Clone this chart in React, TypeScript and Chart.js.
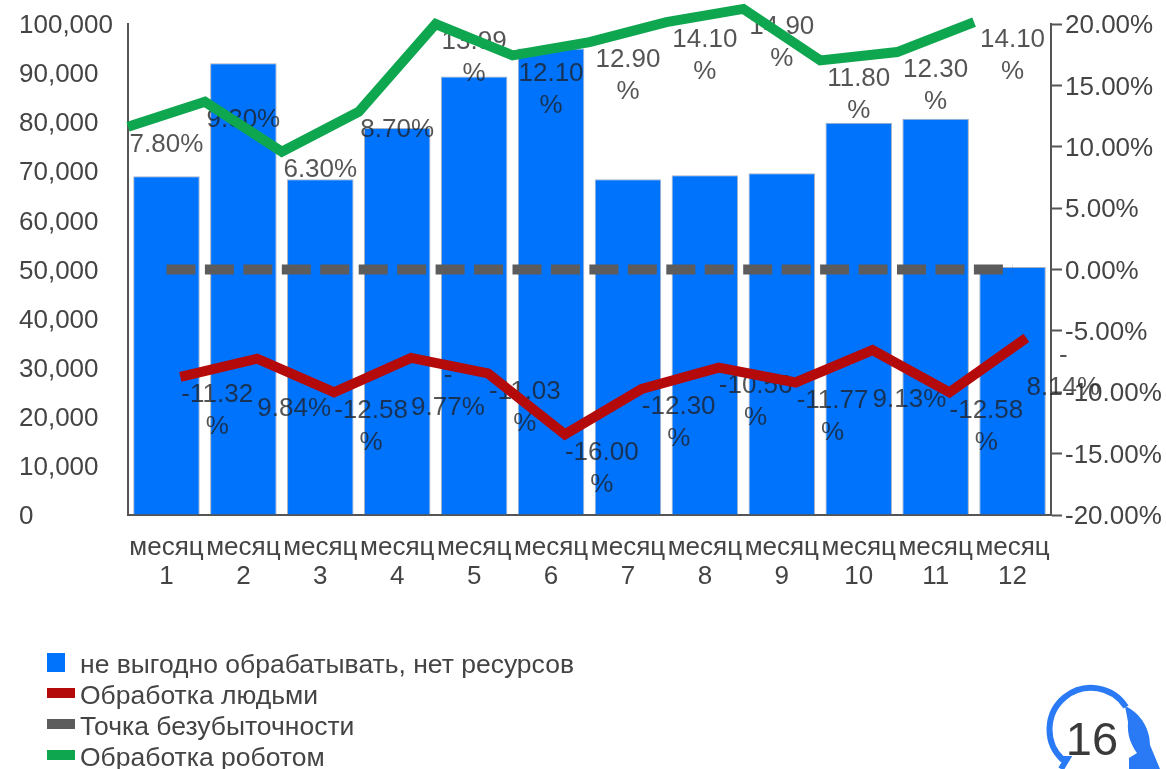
import React, { useEffect, useRef } from "react";
import { Chart, registerables } from "chart.js";

Chart.register(...registerables);

const months = ["1", "2", "3", "4", "5", "6", "7", "8", "9", "10", "11", "12"];
const monthWord = "месяц";

const unprofitable = [69000, 92000, 68400, 78800, 89300, 95000, 68400, 69200, 69600, 79900, 80700, 50500];
const humanMargin = [-11.32, -9.84, -12.58, -9.77, -11.03, -16.0, -12.3, -10.56, -11.77, -9.13, -12.58, -8.14];
const breakEven = [0, 0, 0, 0, 0, 0, 0, 0, 0, 0, 0, 0];
const robotMargin = [7.8, 9.3, 6.3, 8.7, 13.99, 12.1, 12.9, 14.1, 14.9, 11.8, 12.3, 14.1];

const seriesNames = ["не выгодно обрабатывать, нет ресурсов", "Обработка людьми", "Точка безубыточности", "Обработка роботом"];
const seriesColors = ["#0073fd", "#b40a0a", "#5c5c5c", "#0fa650"];

// Each line series has its own horizontal shift within a month slot.
const humanShift = 0.18;
const robotShift = -0.5;
const humanLabelShift = 0.66;

const FONT = '"Liberation Sans", Arial, sans-serif';
const TEXT = "#444444";
const AXIS = "#555555";
const LABEL_INK = "rgba(30,30,30,0.76)";
const LINE_WIDTH = 10;

const wrapLabel = (ctx: CanvasRenderingContext2D, text: string, maxWidth: number): string[] => {
  if (ctx.measureText(text).width <= maxWidth) return [text];
  const rest = text.slice(1);
  if (text.startsWith("-") && ctx.measureText(rest).width <= maxWidth) return ["-", rest];
  return [text.slice(0, -1), "%"];
};

// Value labels sit over the bars but underneath the line strokes.
const valueLabels = {
  id: "valueLabels",
  afterDatasetDraw(chart: any, args: any) {
    if (args.index !== 0) return;
    const { ctx, scales } = chart;
    const slot = scales.xLine.getPixelForValue(2) - scales.xLine.getPixelForValue(1);
    ctx.save();
    ctx.font = `26px ${FONT}`;
    ctx.fillStyle = LABEL_INK;
    ctx.textAlign = "center";
    ctx.textBaseline = "middle";
    const put = (value: number, labelX: number, axis: any) => {
      const lines = wrapLabel(ctx, `${value.toFixed(2)}%`, slot);
      const top = axis.getPixelForValue(value) + 18;
      lines.forEach((line, i) => ctx.fillText(line, scales.xLine.getPixelForValue(labelX), top + i * 32));
    };
    robotMargin.forEach((v, i) => put(v, i + 1, scales.yRobot));
    humanMargin.forEach((v, i) => put(v, i + 1 + humanLabelShift, scales.yHuman));
    ctx.restore();
  },
};

// Stacked legend in the lower left: a square for the bars, short strips for the lines.
const stackedLegend = {
  id: "stackedLegend",
  afterDraw(chart: any) {
    const { ctx } = chart;
    ctx.save();
    ctx.font = `26.5px ${FONT}`;
    ctx.textBaseline = "middle";
    ctx.textAlign = "left";
    const rows = [664, 695, 726, 757];
    chart.data.datasets.forEach((ds: any, i: number) => {
      ctx.fillStyle = seriesColors[i];
      if (ds.type === "bar") ctx.fillRect(47, rows[i] - 11, 18, 19);
      else ctx.fillRect(47, rows[i] - 7, 28, 10);
      ctx.fillStyle = TEXT;
      ctx.fillText(ds.label, 80, rows[i] + 1.5);
    });
    ctx.restore();
  },
};

export default function App() {
  const ref = useRef<HTMLCanvasElement>(null);

  useEffect(() => {
    const chart = new Chart(ref.current as HTMLCanvasElement, {
      type: "bar",
      plugins: [valueLabels, stackedLegend],
      data: {
        labels: months.map((m) => [monthWord, m]),
        datasets: [
          {
            type: "bar",
            label: seriesNames[0],
            data: unprofitable,
            backgroundColor: seriesColors[0],
            borderColor: "rgba(110,125,150,0.6)",
            borderWidth: 1,
            barPercentage: 0.865,
            categoryPercentage: 1,
            grouped: false,
            xAxisID: "x",
            yAxisID: "yLeft",
            order: 4,
          },
          {
            type: "line",
            label: seriesNames[1],
            data: humanMargin.map((y, i) => ({ x: i + 1 + humanShift, y })),
            borderColor: seriesColors[1],
            borderWidth: LINE_WIDTH,
            pointRadius: 0,
            tension: 0,
            borderJoinStyle: "miter",
            xAxisID: "xLine",
            yAxisID: "yHuman",
            clip: false,
            order: 2,
          },
          {
            type: "line",
            label: seriesNames[2],
            data: breakEven.map((y, i) => ({ x: i + 1, y })),
            borderColor: seriesColors[2],
            borderWidth: LINE_WIDTH,
            borderDash: [29, 9.45],
            pointRadius: 0,
            tension: 0,
            xAxisID: "xLine",
            yAxisID: "yRight",
            order: 3,
          },
          {
            type: "line",
            label: seriesNames[3],
            data: robotMargin.map((y, i) => ({ x: i + 1 + robotShift, y })),
            borderColor: seriesColors[3],
            borderWidth: LINE_WIDTH,
            pointRadius: 0,
            tension: 0,
            borderJoinStyle: "miter",
            xAxisID: "xLine",
            yAxisID: "yRobot",
            clip: false,
            order: 1,
          },
        ],
      } as any,
      options: {
        responsive: false,
        animation: false,
        layout: { padding: { left: 19, top: 24, right: 0, bottom: 0 } },
        plugins: { legend: { display: false }, tooltip: { enabled: false } },
        scales: {
          x: {
            type: "category",
            position: "bottom",
            offset: true,
            grid: { display: false },
            border: { color: AXIS, width: 2 },
            ticks: {
              color: TEXT,
              font: { family: FONT, size: 26, lineHeight: 1.13 },
              autoSkip: false,
              maxRotation: 0,
              minRotation: 0,
              padding: 10,
            },
            afterFit: (s: any) => {
              s.height = 254;
            },
          },
          xLine: { type: "linear", offset: false, min: 0.5, max: 12.5, display: false },
          yLeft: {
            type: "linear",
            position: "left",
            min: 0,
            max: 100000,
            grid: { drawOnChartArea: false, drawTicks: false },
            border: { color: AXIS, width: 2 },
            ticks: {
              stepSize: 10000,
              color: TEXT,
              crossAlign: "far",
              labelOffset: 2,
              font: { family: FONT, size: 26 },
              callback: (v: any) => Number(v).toLocaleString("en-US"),
            },
            afterFit: (s: any) => {
              s.width = 109;
            },
          },
          yRight: {
            type: "linear",
            position: "right",
            min: -20,
            max: 20,
            grid: { drawOnChartArea: false, tickLength: 11, tickColor: AXIS, tickWidth: 2 },
            border: { color: AXIS, width: 2 },
            ticks: {
              stepSize: 5,
              color: TEXT,
              padding: 3,
              labelOffset: 2,
              font: { family: FONT, size: 26 },
              callback: (v: any) => `${Number(v).toFixed(2)}%`,
            },
            afterFit: (s: any) => {
              s.width = 115;
            },
          },
          // The two margin lines run on their own unlabelled scales.
          yHuman: { type: "linear", display: false, min: -22.57, max: 17.43 },
          yRobot: { type: "linear", display: false, min: -15.59, max: 13.99 },
        },
      } as any,
    });
    return () => chart.destroy();
  }, []);

  return (
    <div style={{ position: "fixed", left: 0, top: 0, width: 1166, height: 769, background: "#fff", overflow: "hidden" }}>
      <canvas ref={ref} width={1166} height={769} style={{ display: "block" }} />
      <svg width={1166} height={769} style={{ position: "absolute", left: 0, top: 0, pointerEvents: "none" }}>
        <path d="M1061 769 L1067 759 L1062 759 A41.5 41.5 0 1 1 1126 707" fill="none" stroke="#2a7af5" strokeWidth={6} />
        <path d="M1125 706 C1142 714 1150 730 1150 745 L1160 769 L1129 769 L1129 758 L1137 753 C1131 745 1127 735 1128 722 Z" fill="#2a7af5" />
        <text x={1092} y={755} textAnchor="middle" fontFamily={FONT} fontSize={47} fill="#3a3a3a">16</text>
      </svg>
    </div>
  );
}
